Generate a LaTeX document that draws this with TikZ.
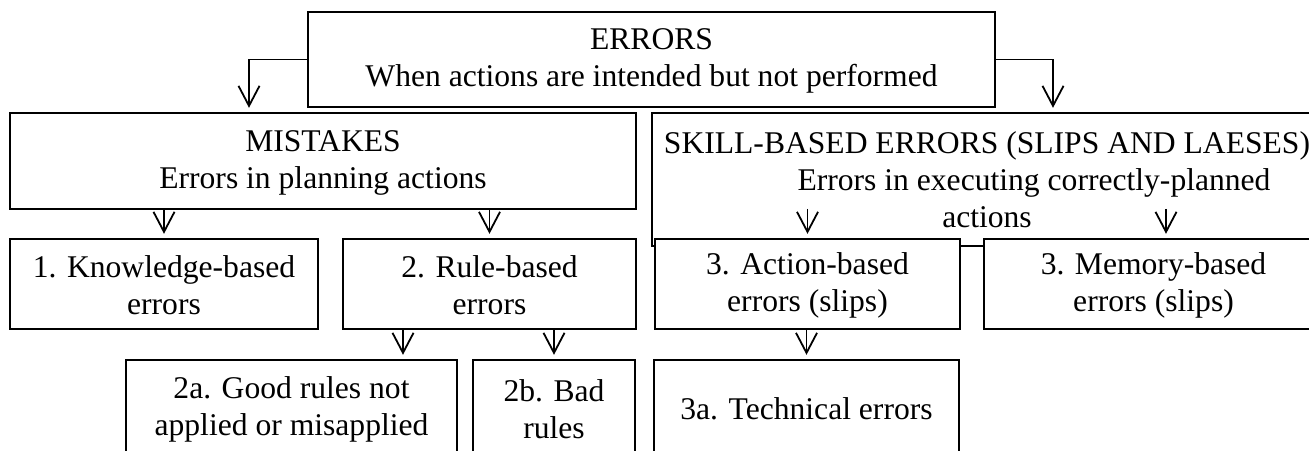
\documentclass[tikz,border=0pt]{standalone}
\usepackage{fontspec}
\setmainfont{Liberation Serif}
\usetikzlibrary{arrows.meta,calc}
\begin{document}
\begin{tikzpicture}[x=0.5pt,y=-0.5pt,
 box/.style={draw, line width=1.2pt, inner sep=0pt, align=center, fill=white, font=\fontsize{15.8}{18.5}\selectfont},
 arr/.style={line width=0.9pt, -{Straight Barb[length=10pt,width=10.5pt,line width=0.9pt]}, shorten >=2pt}]
\useasboundingbox (0,0) rectangle (1309,450);
\clip (0,0) rectangle (1309,450);
\node[box, minimum width=343.5pt, minimum height=47.5pt] (errors) at (651.5,59.5) {\rule{0pt}{12pt}ERRORS\\When actions are intended but not performed};
\node[box, minimum width=313pt, minimum height=48pt] (mistakes) at (323,161) {\rule{0pt}{12pt}MISTAKES\\Errors in planning actions};
\node[box, minimum width=335pt, minimum height=66.5pt] (skill) at (987,179.5) {SKILL-BASED ERRORS (SLIPS AND LAESES)\\\hspace*{47pt}Errors in executing correctly-planned\\actions};
\node[box, minimum width=154pt, minimum height=45pt] (know) at (164,284) {\rule{0pt}{12pt}1. Knowledge-based\\errors};
\node[box, minimum width=146.5pt, minimum height=45pt] (rule) at (489.5,284) {\rule{0pt}{12pt}2. Rule-based\\errors};
\node[box, minimum width=152.5pt, minimum height=45pt] (action) at (807.5,284) {\rule{0pt}{12pt}3. Action-based\\errors (slips)};
\node[box, minimum width=169.5pt, minimum height=45pt] (memory) at (1153.5,284) {\rule{0pt}{12pt}3. Memory-based\\errors (slips)};
\node[box, minimum width=165.5pt, minimum height=48.5pt] (g2a) at (291.5,408.5) {\rule{0pt}{12pt}2a. Good rules not\\applied or misapplied};
\node[box, minimum width=81pt, minimum height=48.5pt] (g2b) at (554,408.5) {\rule{0pt}{12pt}2b. Bad\\rules};
\node[box, minimum width=152.5pt, minimum height=48.5pt] (t3a) at (806.5,408.5) {3a. Technical errors};
\draw[arr] (errors.west) -| ($(mistakes.north)+(-74,0)$);
\draw[arr] (errors.east) -| ($(skill.north)+(66,0)$);
\draw[arr] (mistakes.south -| know.north) -- (know.north);
\draw[arr] (mistakes.south -| rule.north) -- (rule.north);
\draw[arr] ($(action.north)+(0,-29)$) -- (action.north);
\draw[arr] ($(memory.north)+(12.5,-29)$) -- ($(memory.north)+(12.5,0)$);
\draw[arr] ($(rule.south)+(-86.5,0)$) -- ($(g2a.north)+(111.5,0)$);
\draw[arr] (rule.south -| g2b.north) -- (g2b.north);
\draw[arr] (action.south -| t3a.north) -- (t3a.north);
\end{tikzpicture}
\end{document}
